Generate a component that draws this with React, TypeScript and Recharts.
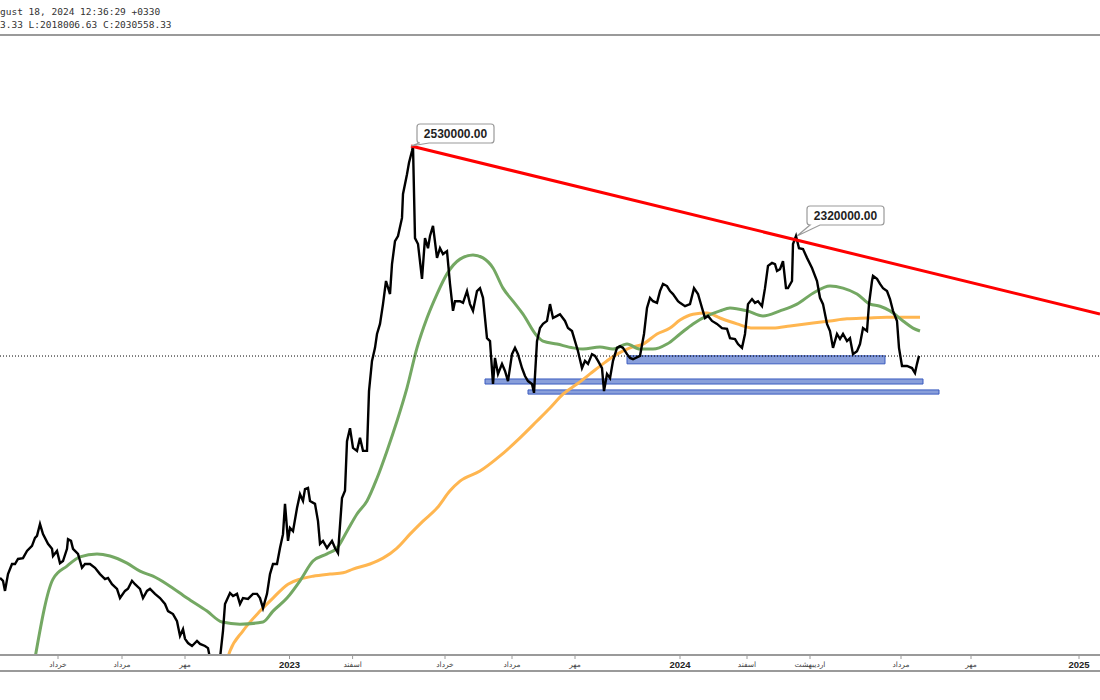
import React from 'react';
import { LineChart, Line, XAxis, YAxis, ReferenceLine, ReferenceArea, ReferenceDot } from 'recharts';

// time index (chart bar position) and price in thousands
const priceT = [0,3,5,8,12,15,18,23,27,32,35,37,40,43,48,52,53,57,60,63,67,68,71,73,78,82,85,90,95,100,105,108,112,117,120,125,128,132,135,140,143,147,150,155,160,165,168,173,177,180,183,185,188,192,197,200,205,208,210,213,217,220,223,225,230,233,237,240,243,248,253,257,260,263,267,270,273,277,280,283,285,288,290,293,297,300,303,305,308,310,315,318,320,323,327,332,335,338,342,345,347,350,353,357,360,363,367,369,372,375,377,380,383,386,390,392,395,398,402,403,407,409,412,413,415,418,422,425,428,430,433,437,440,443,447,450,453,455,460,463,467,470,473,477,480,483,487,490,493,495,498,502,505,508,512,515,518,522,525,528,532,534,537,540,543,547,550,553,557,560,565,568,572,575,578,582,585,588,592,595,598,602,604,607,610,613,617,620,623,627,630,633,640,644,647,650,653,657,660,663,667,670,673,678,680,685,690,694,698,702,705,708,712,717,722,727,730,735,738,742,745,748,752,755,758,762,765,768,772,775,777,780,783,786,788,792,793,796,799,803,807,812,817,820,823,827,830,833,837,840,843,847,850,853,857,860,863,867,869,872,873,877,880,883,887,890,893,897,899,902,907,912,915,917,919];
const priceV = [1503,1496,1472,1512,1536,1536,1548,1550,1567,1579,1598,1603,1631,1607,1584,1572,1555,1567,1538,1543,1572,1595,1591,1572,1560,1527,1536,1536,1527,1512,1500,1503,1488,1477,1455,1472,1477,1496,1488,1477,1455,1472,1477,1465,1455,1441,1424,1417,1400,1365,1381,1358,1348,1341,1353,1346,1341,1336,1312,1270,1270,1312,1377,1441,1467,1460,1465,1441,1455,1453,1465,1465,1455,1431,1465,1512,1536,1536,1574,1607,1679,1591,1622,1614,1669,1702,1686,1714,1717,1686,1679,1638,1584,1591,1574,1591,1574,1562,1693,1710,1828,1859,1812,1805,1836,1805,1805,1947,2019,2050,2083,2107,2154,2209,2178,2249,2304,2316,2359,2416,2463,2490,2518,2530,2311,2297,2214,2311,2287,2316,2340,2264,2287,2273,2280,2202,2138,2161,2161,2157,2185,2154,2138,2185,2192,2169,2073,2066,1964,2026,1988,2012,1995,1971,2035,2050,2035,2002,1983,1971,1964,1943,2066,2097,2107,2114,2154,2121,2126,2130,2114,2097,2090,2066,2042,2002,2019,2012,2035,2031,2019,2002,1947,1988,1978,2019,2050,2054,2050,2035,2026,2023,2031,2083,2145,2169,2161,2157,2185,2202,2197,2185,2178,2161,2157,2149,2154,2192,2178,2145,2121,2126,2114,2107,2097,2095,2073,2071,2059,2050,2083,2154,2166,2157,2161,2149,2192,2245,2252,2249,2233,2237,2256,2192,2192,2209,2297,2316,2287,2285,2264,2240,2209,2169,2154,2107,2090,2050,2083,2071,2083,2066,2073,2035,2042,2059,2097,2090,2154,2209,2221,2214,2202,2192,2185,2166,2138,2114,2050,2007,2007,2002,1990,2012,2031];

const ma50T = [35,53,67,80,97,110,127,140,153,167,187,207,222,240,263,273,287,300,313,327,337,347,357,367,377,387,397,407,417,427,437,447,460,473,483,493,503,513,523,537,543,557,573,583,600,613,627,640,653,667,680,693,707,720,730,747,763,780,797,813,830,843,857,870,880,890,903,913,920];
const ma50V = [1312,1500,1531,1553,1560,1555,1538,1519,1507,1488,1455,1424,1398,1393,1398,1424,1455,1496,1543,1560,1574,1614,1655,1686,1740,1805,1876,1955,2050,2121,2178,2226,2261,2271,2264,2240,2192,2161,2130,2078,2066,2059,2050,2047,2052,2047,2059,2047,2047,2059,2083,2107,2126,2138,2145,2138,2126,2138,2154,2180,2197,2192,2178,2154,2149,2138,2114,2097,2090];

const ma200T = [226,230,243,260,273,288,300,313,330,343,353,370,383,397,410,423,437,450,460,480,500,520,537,550,563,577,590,603,617,630,643,657,670,680,693,707,720,737,753,773,790,813,830,847,867,887,907,920];
const ma200V = [1300,1329,1377,1424,1455,1488,1500,1507,1512,1515,1524,1536,1550,1574,1607,1638,1669,1710,1733,1757,1793,1836,1876,1907,1940,1964,1988,2012,2035,2050,2059,2083,2097,2116,2130,2133,2121,2107,2097,2097,2102,2109,2114,2119,2121,2123,2123,2123];

const trendStart = { t: 411, v: 2530 };
const trendEnd = { t: 1100, v: 2130.5 };
const lastClose = 2030.558;

const zones = [
  { t1: 627, t2: 885, lo: 2012, hi: 2031 },
  { t1: 485, t2: 923, lo: 1964, hi: 1976 },
  { t1: 528, t2: 939, lo: 1940, hi: 1950 },
];

const callouts = [
  { t: 411, v: 2530, text: '2530000.00', dx: 6, dy: -22, tail: [2, 12] },
  { t: 797, v: 2316, text: '2320000.00', dx: 10, dy: -30, tail: [3, 13] },
];

const tickPos = [58, 122, 185, 289.5, 352.6, 445, 512, 575, 680, 747, 810, 901, 971, 1079];
const tickLabels = ['خرداد', 'مرداد', 'مهر', '2023', 'اسفند', 'خرداد', 'مرداد', 'مهر', '2024', 'اسفند', 'اردیبهشت', 'مرداد', 'مهر', '2025'];

const headerLine1 = 'gust 18, 2024 12:36:29 +0330';
const headerLine2 = '3.33 L:2018006.63 C:2030558.33';

const priceData = priceT.map((t, i) => ({ t, v: priceV[i] }));
const ma50Data = ma50T.map((t, i) => ({ t, v: ma50V[i] }));
const ma200Data = ma200T.map((t, i) => ({ t, v: ma200V[i] }));

const Callout = (props: any) => {
  const { cx, cy, text, dx, dy, tail } = props;
  if (cx == null || cy == null) return null;
  const w = 77, h = 19, r = 3;
  const x = cx + dx, y = cy + dy;
  const tx1 = x + tail[0], tx2 = x + tail[1];
  const d = `M${x + r},${y} H${x + w - r} Q${x + w},${y} ${x + w},${y + r} V${y + h - r} Q${x + w},${y + h} ${x + w - r},${y + h} H${tx2} L${cx},${cy} L${tx1},${y + h} H${x + r} Q${x},${y + h} ${x},${y + h - r} V${y + r} Q${x},${y} ${x + r},${y} Z`;
  return (
    <g>
      <path d={d} fill="#ffffff" stroke="#9a9a9a" strokeWidth={1.2} />
      <text x={x + w / 2} y={y + h / 2 + 4.3} textAnchor="middle" fontFamily="'Liberation Sans', Arial, sans-serif" fontWeight="bold" fontSize={12} fill="#1f1f1f">{text}</text>
    </g>
  );
};

const Tick = (props: any) => {
  const { x, payload } = props;
  const idx = tickPos.indexOf(payload.value);
  const label = idx >= 0 ? tickLabels[idx] : '';
  const isYear = /^\d+$/.test(label);
  return (
    <text x={x} y={isYear ? 668 : 667} textAnchor="middle"
      fontFamily={isYear ? "'Liberation Sans', Arial, sans-serif" : "'DejaVu Sans', sans-serif"}
      fontSize={isYear ? 9.5 : 7.5} fontWeight={isYear ? 'bold' : 'normal'} fill={isYear ? '#222' : '#444'}>
      {label}
    </text>
  );
};

export default function App() {
  return (
    <div style={{ position: 'absolute', left: 0, top: 0, width: 1100, height: 700, background: '#fff', overflow: 'hidden' }}>
      <div style={{ position: 'absolute', left: 0, top: 5, fontFamily: "'DejaVu Sans Mono', monospace", fontSize: 9.5, lineHeight: '13px', color: '#333', whiteSpace: 'pre' }}>
        <div>{headerLine1}</div>
        <div>{headerLine2}</div>
      </div>
      <div style={{ position: 'absolute', left: 0, top: 34, width: 1100, height: 0, borderTop: '2px solid #9a9a9a' }} />
      <div style={{ position: 'absolute', left: 0, top: 670, width: 1100, height: 0, borderTop: '2px solid #9a9a9a' }} />
      <div style={{ position: 'absolute', left: 0, top: 0 }}>
        <LineChart width={1100} height={700} margin={{ top: 36, right: 0, bottom: 29, left: 0 }}>
          <XAxis dataKey="t" type="number" domain={[0, 1100]} ticks={tickPos} interval={0}
            allowDataOverflow height={16} tick={<Tick />} tickSize={4}
            axisLine={{ stroke: '#9a9a9a', strokeWidth: 2 }} tickLine={{ stroke: '#9a9a9a' }} />
          <YAxis hide type="number" domain={[1319.6, 2791.6]} allowDataOverflow />
          <Line data={ma200Data} dataKey="v" type="monotone" dot={false} stroke="#ffb650" strokeWidth={3} isAnimationActive={false} />
          <Line data={ma50Data} dataKey="v" type="monotone" dot={false} stroke="#74a863" strokeWidth={3} isAnimationActive={false} />
          <Line data={priceData} dataKey="v" type="linear" dot={false} stroke="#000000" strokeWidth={2.4} isAnimationActive={false} />
          {zones.map((z, i) => (
            <ReferenceArea key={i} x1={z.t1} x2={z.t2} y1={z.lo} y2={z.hi} fill="#3f63c4" fillOpacity={0.62} stroke="#3a5bbf" strokeWidth={1} ifOverflow="visible" />
          ))}
          <ReferenceLine y={lastClose} stroke="#000" strokeDasharray="1 2" strokeWidth={1} />
          <ReferenceLine segment={[{ x: trendStart.t, y: trendStart.v }, { x: trendEnd.t, y: trendEnd.v }]} stroke="#ff0000" strokeWidth={3} ifOverflow="visible" />
          {callouts.map((c, i) => (
            <ReferenceDot key={i} x={c.t} y={c.v} r={0} ifOverflow="visible"
              shape={(p: any) => <Callout cx={p.cx} cy={p.cy} text={c.text} dx={c.dx} dy={c.dy} tail={c.tail} />} />
          ))}
        </LineChart>
      </div>
    </div>
  );
}
